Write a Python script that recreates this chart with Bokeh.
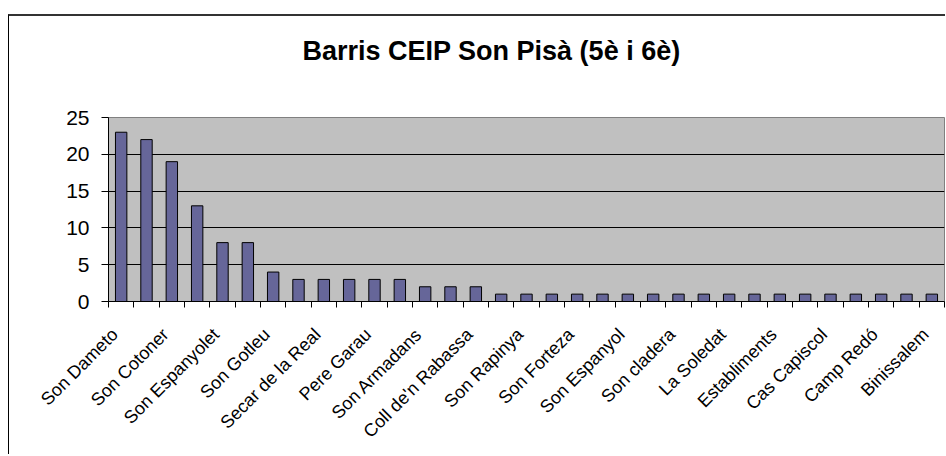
import math
from bokeh.plotting import figure
from bokeh.models import FixedTicker, Range1d, ColumnDataSource, Title
from bokeh.embed import file_html
from bokeh.resources import INLINE

chart_title = "Barris CEIP Son Pisà (5è i 6è)"
# only every other category name is printed on the axis
shown_labels = ["Son Dameto", "Son Cotoner", "Son Espanyolet", "Son Gotleu",
                "Secar de la Real", "Pere Garau", "Son Armadans", "Coll de'n Rabassa",
                "Son Rapinya", "Son Forteza", "Son Espanyol", "Son cladera",
                "La Soledat", "Establiments", "Cas Capiscol", "Camp Redó", "Binissalem"]
values = [23, 22, 19, 13, 8, 8, 4, 3, 3, 3, 3, 3, 2, 2, 2,
          1, 1, 1, 1, 1, 1, 1, 1, 1, 1, 1, 1, 1, 1, 1, 1, 1, 1]
y_ticks = [0, 5, 10, 15, 20, 25]

n = len(values)
xs = list(range(1, n + 1))
label_shift = 0.25
label_pos = [x - label_shift for x in xs[::2]]
overrides = {pos: name for pos, name in zip(label_pos, shown_labels)}

src = ColumnDataSource(dict(x=xs, top=values))

p = figure(width=937, height=440,
           x_range=Range1d(0.5, n + 0.5), y_range=Range1d(0, 25),
           output_backend="svg", toolbar_location=None,
           min_border_left=99, min_border_right=2,
           min_border_top=101, min_border_bottom=155)
p.title = None
p.margin = (14, 0, 0, 8)
p.styles = {"border-top": "2px solid #333333", "border-left": "1px solid #000000"}

p.background_fill_color = "#C0C0C0"
p.border_fill_color = "white"
p.outline_line_color = "#808080"
p.outline_line_width = 1

# spacer between frame and title, then the title itself
p.add_layout(Title(text=" ", text_font_size="1px", standoff=44), "above")
p.add_layout(Title(text=chart_title, text_font="Liberation Sans", text_font_style="bold",
                   text_font_size="27px", text_color="black", align="left",
                   offset=194, standoff=10), "above")

p.vbar(x="x", top="top", width=0.45, source=src,
       fill_color="#666699", line_color="black", line_width=1)

p.xgrid.visible = False
p.ygrid.ticker = FixedTicker(ticks=y_ticks[1:-1])
p.ygrid.grid_line_color = "black"
p.ygrid.grid_line_width = 1

xa = p.xaxis[0]
xa.ticker = FixedTicker(ticks=label_pos, minor_ticks=[i + 0.5 for i in range(0, n + 1)])
xa.major_label_overrides = overrides
xa.major_label_orientation = math.pi / 4
xa.major_tick_out = 0
xa.major_tick_in = 0
xa.minor_tick_out = 6
xa.minor_tick_in = 0
xa.minor_tick_line_color = "black"
xa.axis_line_color = "black"
xa.major_label_text_font = "Liberation Sans"
xa.major_label_text_font_size = "18px"
xa.major_label_text_color = "black"
xa.major_label_standoff = 24

ya = p.yaxis[0]
ya.ticker = FixedTicker(ticks=y_ticks)
ya.major_tick_out = 7
ya.major_tick_in = 0
ya.minor_tick_line_color = None
ya.axis_line_color = "black"
ya.major_tick_line_color = "black"
ya.major_label_text_font = "Liberation Sans"
ya.major_label_text_font_size = "21px"
ya.major_label_text_color = "black"
ya.major_label_standoff = 12

open("out.html", "w").write(file_html(p, INLINE))
